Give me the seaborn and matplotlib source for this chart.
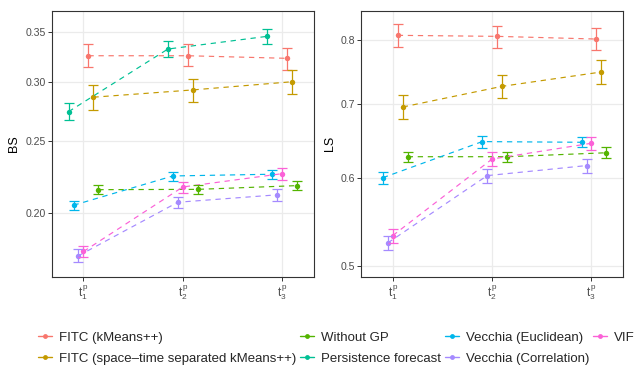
import matplotlib
matplotlib.use("Agg")
import matplotlib.pyplot as plt
from matplotlib.lines import Line2D
from matplotlib.ticker import FixedLocator, FixedFormatter, NullLocator
import seaborn as sns
import pandas as pd

# methods in legend order and their ggplot hue colours
methods = [
    "FITC (kMeans++)",
    "FITC (space\u2013time separated kMeans++)",
    "Without GP",
    "Persistence forecast",
    "Vecchia (Euclidean)",
    "Vecchia (Correlation)",
    "VIF",
]
colors = ["#F8766D", "#C49A00", "#53B400", "#00C094", "#00B6EB", "#A58AFF", "#FB61D7"]
horizons = [1, 2, 3]
horizon_labels = [r"$t^{\mathrm{p}}_{1}$", r"$t^{\mathrm{p}}_{2}$", r"$t^{\mathrm{p}}_{3}$"]

# Brier score (left panel)
bs_mid = {
    "FITC (kMeans++)": [0.3253, 0.3253, 0.3227],
    "FITC (space\u2013time separated kMeans++)": [0.2862, 0.2927, 0.3002],
    "Without GP": [0.2151, 0.2153, 0.2178],
    "Persistence forecast": [0.2737, 0.3321, 0.3454],
    "Vecchia (Euclidean)": [0.2050, 0.2244, 0.2256],
    "Vecchia (Correlation)": [0.1754, 0.2069, 0.2117],
    "VIF": [0.1777, 0.2169, 0.2260],
}
bs_low = {
    "FITC (kMeans++)": [0.3142, 0.3150, 0.3113],
    "FITC (space\u2013time separated kMeans++)": [0.2754, 0.2818, 0.2891],
    "Without GP": [0.2121, 0.2123, 0.2147],
    "Persistence forecast": [0.2665, 0.3240, 0.3373],
    "Vecchia (Euclidean)": [0.2017, 0.2210, 0.2224],
    "Vecchia (Correlation)": [0.1722, 0.2032, 0.2077],
    "VIF": [0.1746, 0.2132, 0.2219],
}
bs_high = {
    "FITC (kMeans++)": [0.3370, 0.3370, 0.3334],
    "FITC (space\u2013time separated kMeans++)": [0.2970, 0.3027, 0.3110],
    "Without GP": [0.2181, 0.2183, 0.2208],
    "Persistence forecast": [0.2814, 0.3401, 0.3535],
    "Vecchia (Euclidean)": [0.2080, 0.2274, 0.2284],
    "Vecchia (Correlation)": [0.1788, 0.2103, 0.2157],
    "VIF": [0.1810, 0.2205, 0.2298],
}

# log score (right panel), no persistence forecast here
ls_mid = {
    "FITC (kMeans++)": [0.8084, 0.8067, 0.8022],
    "FITC (space\u2013time separated kMeans++)": [0.6961, 0.7268, 0.7489],
    "Without GP": [0.6275, 0.6275, 0.6327],
    "Vecchia (Euclidean)": [0.6006, 0.6476, 0.6467],
    "Vecchia (Correlation)": [0.5242, 0.6032, 0.6160],
    "VIF": [0.5323, 0.6245, 0.6454],
}
ls_low = {
    "FITC (kMeans++)": [0.7889, 0.7878, 0.7834],
    "FITC (space\u2013time separated kMeans++)": [0.6785, 0.7089, 0.7300],
    "Without GP": [0.6201, 0.6201, 0.6254],
    "Vecchia (Euclidean)": [0.5925, 0.6395, 0.6400],
    "Vecchia (Correlation)": [0.5163, 0.5941, 0.6069],
    "VIF": [0.5246, 0.6160, 0.6359],
}
ls_high = {
    "FITC (kMeans++)": [0.8282, 0.8248, 0.8208],
    "FITC (space\u2013time separated kMeans++)": [0.7133, 0.7447, 0.7679],
    "Without GP": [0.6340, 0.6340, 0.6399],
    "Vecchia (Euclidean)": [0.6083, 0.6557, 0.6539],
    "Vecchia (Correlation)": [0.5320, 0.6118, 0.6249],
    "VIF": [0.5397, 0.6336, 0.6544],
}

palette = dict(zip(methods, colors))
# position_dodge offsets, same order as in the original plot
dodge = {
    "Persistence forecast": -0.15,
    "Vecchia (Euclidean)": -0.10,
    "Vecchia (Correlation)": -0.05,
    "VIF": 0.0,
    "FITC (kMeans++)": 0.05,
    "FITC (space\u2013time separated kMeans++)": 0.10,
    "Without GP": 0.15,
}


def make_frame(mid, low, high):
    rows = []
    for m in mid:
        for i, h in enumerate(horizons):
            rows.append({"method": m, "x": h + dodge[m],
                         "mid": mid[m][i], "low": low[m][i], "high": high[m][i]})
    return pd.DataFrame(rows)


def draw_panel(ax, df, ylabel, yticks, fmt, ylim, label_x):
    order = [m for m in methods if m in df["method"].unique()]
    sns.lineplot(data=df, x="x", y="mid", hue="method", hue_order=order,
                 palette=palette, linestyle="--", linewidth=0.85,
                 marker="o", markersize=3.9, markeredgewidth=0,
                 legend=False, errorbar=None, sort=True, ax=ax)
    for m in order:
        d = df[df["method"] == m]
        ax.errorbar(d["x"], d["mid"], yerr=[d["mid"] - d["low"], d["high"] - d["mid"]],
                    fmt="none", ecolor=palette[m], elinewidth=0.9,
                    capsize=3.6, capthick=0.9)
    ax.set_yscale("log")
    ax.yaxis.set_major_locator(FixedLocator(yticks))
    ax.yaxis.set_major_formatter(FixedFormatter([fmt.format(t) for t in yticks]))
    ax.yaxis.set_minor_locator(NullLocator())
    ax.set_ylim(*ylim)
    ax.set_xlim(0.68, 3.32)
    ax.set_xticks(horizons)
    ax.set_xticklabels(horizon_labels, fontsize=8.5)
    ax.set_xlabel("")
    ax.set_ylabel(ylabel, fontsize=9, color="black")
    ax.yaxis.set_label_coords(label_x, 0.5)
    ax.grid(True, color="#EBEBEB", linewidth=0.9)
    for s in ax.spines.values():
        s.set_color("#333333")
        s.set_linewidth(0.8)


sns.set_theme(style="whitegrid", rc={
    "xtick.bottom": True, "ytick.left": True,
    "xtick.major.size": 3, "ytick.major.size": 3,
    "xtick.major.width": 0.7, "ytick.major.width": 0.7,
    "xtick.major.pad": 1.5, "ytick.major.pad": 1.2,
    "xtick.color": "#333333", "ytick.color": "#333333",
    "xtick.labelcolor": "#4D4D4D", "ytick.labelcolor": "#4D4D4D",
    "xtick.labelsize": 8, "ytick.labelsize": 7.6,
    "lines.dashed_pattern": [4.5, 4.0],
})
plt.rcParams["font.family"] = ["Liberation Sans", "DejaVu Sans"]
plt.rcParams["mathtext.fontset"] = "custom"
plt.rcParams["mathtext.rm"] = "Liberation Sans"
plt.rcParams["mathtext.it"] = "Liberation Sans"

fig = plt.figure(figsize=(6.34, 3.81), dpi=100)
ax1 = fig.add_axes([0.0815, 0.2738, 0.4137, 0.698])
ax2 = fig.add_axes([0.5694, 0.2738, 0.4137, 0.698])

draw_panel(ax1, make_frame(bs_mid, bs_low, bs_high), "BS",
           [0.20, 0.25, 0.30, 0.35], "{:.2f}", (0.1644, 0.3738), -0.121)
draw_panel(ax2, make_frame(ls_mid, ls_low, ls_high), "LS",
           [0.5, 0.6, 0.7, 0.8], "{:.1f}", (0.4885, 0.851), -0.095)

handles = [Line2D([], [], color=c, marker="o", markersize=3.5, linewidth=1.0,
                  markeredgewidth=0) for c in colors]
fig.legend(handles, methods, ncol=4, loc="upper left",
           bbox_to_anchor=(0.060, 0.130), frameon=False, fontsize=9.5,
           handlelength=1.08, handletextpad=0.5, columnspacing=0.3,
           labelspacing=0.68, borderpad=0, borderaxespad=0)

fig.savefig("out.png", dpi=100)
